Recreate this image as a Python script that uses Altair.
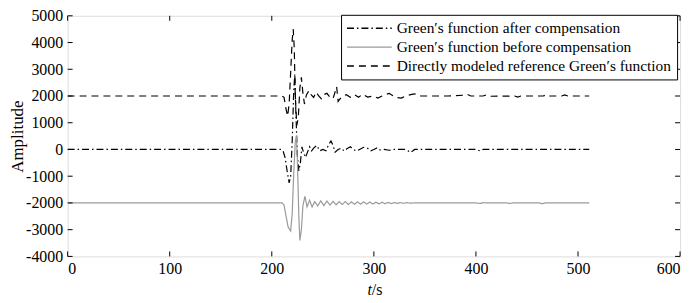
import altair as alt
import pandas as pd

# ---- data ----
S_AFTER = "Green′s function after compensation"
S_BEFORE = "Green′s function before compensation"
S_REF = "Directly modeled reference Green′s function"

t_after = [0, 209, 211, 213, 215, 217, 218.5, 220, 221.5, 222.5, 223.5, 225, 226.5, 228, 229.5, 231, 233,
           235, 237, 239, 241, 244, 247, 250, 253, 256, 258, 260, 262, 265, 268, 271, 274, 277, 280, 283,
           286, 290, 294, 297, 300, 303, 306, 310, 315, 320, 330, 334, 336, 338, 340, 350, 400, 404, 407, 511]
v_after = [0, 0, -50, -300, -800, -1250, -1000, 300, 2200, 2800, 1500, -200, -800, -500, 100, -100, -300,
           -100, 100, -50, 50, 150, -50, 0, -50, 200, 320, 150, -100, 0, 50, -60, 40, 100, 0, -60,
           0, 80, 40, -50, 0, 60, -20, 0, -30, 0, 0, -60, -110, -60, 0, 0, 0, -50, 0, 0]

t_before = [0, 210, 212, 214, 216, 218.5, 220, 221.5, 223, 224, 225, 226.5, 227.5, 229, 230.5, 232.5,
            234.5, 237, 239.5, 242, 245, 248, 251, 254, 257, 260, 263, 266, 269, 272, 275, 278, 281, 284,
            287, 290, 293, 296, 299, 302, 305, 308, 311, 314, 317, 320, 323, 326, 329, 332, 336, 340, 345,
            400, 404, 407, 410, 430, 433, 436, 462, 465, 468, 511]
v_before = [-2000, -2000, -2080, -2500, -2900, -3050, -2400, -900, 300, 500, -300, -2500, -3400, -3000,
            -2100, -1750, -2150, -1900, -2150, -1950, -2110, -1920, -2100, -1930, -2080, -1940, -2070,
            -1950, -2060, -1950, -2060, -1960, -2050, -1960, -2050, -1960, -2045, -1965, -2040, -1970,
            -2035, -1975, -2030, -1980, -2025, -1985, -2020, -1985, -2015, -1990, -2010, -1995, -2000,
            -2000, -2020, -1990, -2000, -2000, -2020, -2000, -2000, -2030, -2000, -2000]

t_ref = [0, 210, 212, 214, 215.5, 217, 218.5, 220, 221, 222, 223, 224.5, 226, 227.5, 229, 230.5, 232,
         234, 236.5, 238.5, 241, 243.5, 246, 248.5, 251, 254, 257, 260, 262, 263.5, 265, 267, 270, 273,
         277, 281, 285, 289, 294, 299, 304, 308, 312, 315, 319, 323, 327, 331, 337, 341, 346, 355, 372,
         388, 391, 395, 407, 411, 415, 438, 441, 444, 466, 469, 472, 484, 487, 490, 511]
v_ref = [2000, 2000, 1950, 1500, 1250, 1700, 2900, 4100, 4500, 3800, 2000, 900, 1200, 2300, 2700, 2100,
         1700, 2050, 2200, 2050, 1950, 2150, 2000, 1900, 2050, 2100, 1950, 1900, 2150, 2350, 1800, 1900,
         2000, 2050, 1950, 2050, 1950, 2070, 1960, 2000, 1920, 2000, 2060, 2100, 2000, 1940, 1920, 2000,
         2060, 2080, 2000, 2000, 2000, 2030, 2070, 2000, 2000, 2050, 1990, 2000, 1960, 2000, 2000, 2050,
         2000, 2000, 2040, 2000, 2000]

x_ticks = [0, 100, 200, 300, 400, 500, 600]
y_ticks = [-4000, -3000, -2000, -1000, 0, 1000, 2000, 3000, 4000, 5000]

series_order = [S_AFTER, S_BEFORE, S_REF]

rows = []
for name, ts, vs, k in [(S_REF, t_ref, v_ref, 0), (S_AFTER, t_after, v_after, 1), (S_BEFORE, t_before, v_before, 2)]:
    for i, (t, v) in enumerate(zip(ts, vs)):
        rows.append({"t": t, "amp": v, "series": name, "k": k, "i": i})
df = pd.DataFrame(rows)

W, H = 616, 242
FONT = "Liberation Serif"

xs = alt.Scale(domain=[0, 600], nice=False)
ys = alt.Scale(domain=[-4000, 5000], nice=False)

x_axis = alt.Axis(values=x_ticks, title=None, tickSize=0, domain=False, grid=False,
                  labelPadding=4, labelFont=FONT, labelFontSize=16, labelColor="black",
                  labelOverlap=False, labelExpr="'' + datum.value")
y_axis = alt.Axis(values=y_ticks, title="Amplitude", tickSize=0, domain=False, grid=False,
                  labelPadding=5, labelFont=FONT, labelFontSize=16, labelColor="black",
                  labelOverlap=False, labelExpr="'' + datum.value",
                  titleFont=FONT, titleFontSize=17, titleFontWeight="normal", titleColor="black",
                  titleX=-41, titleY=H / 2, titleAngle=270, titleBaseline="bottom")

legend_cfg = dict(title=None, orient="none", legendX=275, legendY=-1,
                  strokeColor="black", fillColor="white", padding=5,
                  symbolType="M-1,0H5", symbolSize=225, symbolStrokeWidth=1.3,
                  labelFont=FONT, labelFontSize=15.5, labelColor="black",
                  labelOffset=34, labelLimit=500, rowPadding=2)

lines = alt.Chart(df).mark_line(strokeWidth=1.2, clip=True).encode(
    x=alt.X("t:Q", scale=xs, axis=x_axis),
    y=alt.Y("amp:Q", scale=ys, axis=y_axis),
    color=alt.Color("series:N", scale=alt.Scale(domain=series_order, range=["black", "#9a9a9a", "black"]),
                    legend=alt.Legend(**legend_cfg)),
    strokeDash=alt.StrokeDash("series:N",
                              scale=alt.Scale(domain=series_order, range=[[7, 3, 1.5, 3], [1, 0], [7, 5]]),
                              legend=alt.Legend(**legend_cfg)),
    detail="k:N",
    order="i:Q",
)

xt = pd.DataFrame({"t": x_ticks})
yt = pd.DataFrame({"amp": y_ticks})
TL = 5
xtick_b = alt.Chart(xt).mark_rule(color="black", strokeWidth=1).encode(
    x=alt.X("t:Q", scale=xs, axis=x_axis), y=alt.value(H), y2=alt.value(H - TL))
xtick_t = alt.Chart(xt).mark_rule(color="black", strokeWidth=1).encode(
    x=alt.X("t:Q", scale=xs, axis=x_axis), y=alt.value(0), y2=alt.value(TL))
ytick_l = alt.Chart(yt).mark_rule(color="black", strokeWidth=1).encode(
    y=alt.Y("amp:Q", scale=ys, axis=y_axis), x=alt.value(0), x2=alt.value(TL))
ytick_r = alt.Chart(yt).mark_rule(color="black", strokeWidth=1).encode(
    y=alt.Y("amp:Q", scale=ys, axis=y_axis), x=alt.value(W - TL), x2=alt.value(W))

one = alt.Data(values=[{"a": 1}])
title_t = alt.Chart(one).mark_text(text="t", font=FONT, fontSize=16, fontStyle="italic",
                                   align="right", baseline="middle", color="black").encode(
    x=alt.value(W / 2 - 2), y=alt.value(H + 34))
title_s = alt.Chart(one).mark_text(text="/s", font=FONT, fontSize=16,
                                   align="left", baseline="middle", color="black").encode(
    x=alt.value(W / 2 - 2), y=alt.value(H + 34))

chart = alt.layer(lines, xtick_b, xtick_t, ytick_l, ytick_r, title_t, title_s).properties(
    width=W, height=H,
    autosize=alt.AutoSizeParams(type="none"),
    padding={"left": 60, "top": 7, "right": 12, "bottom": 42},
).configure_view(stroke="black", strokeWidth=1).configure(background="white")

chart.save("out.html", embed_options={"renderer": "svg", "actions": False})
